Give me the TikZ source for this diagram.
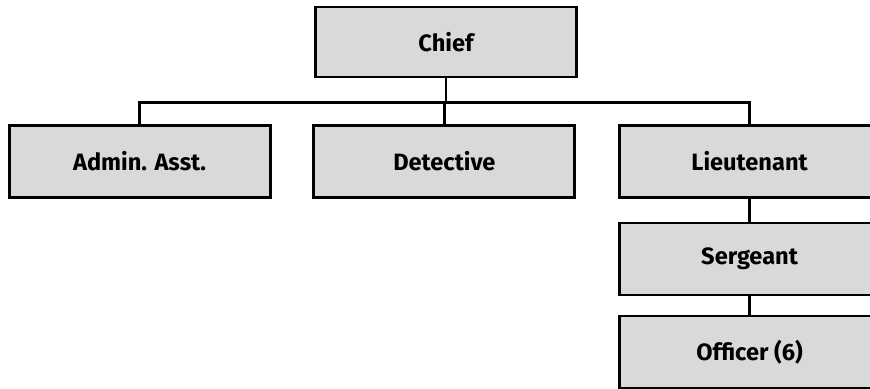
\documentclass[tikz,border=0pt]{standalone}
\usepackage{fontspec}
\setmainfont{Fira Sans}
\usepackage{tikz}

\begin{document}
\begin{tikzpicture}
		[scale=1,auto=center,
		every node/.style={draw=black,line width=2.1pt,fill=black!15,minimum width=6.525cm,minimum height=1.8cm,font=\fontsize{16.8}{20}\selectfont\bfseries},
		edge/.style={line width=1.6pt}]
		\clip (0,0) rectangle (21.75,-9.725);
		\node (chief) at (11.15,-1.05) [minimum height=1.75cm] {Chief};
		\node (admin) at (3.49,-4.04) {Admin. Asst.};
		\node (detective) at (11.11,-4.04) {Detective};
		\node (lieutenant) at (18.74,-4.04) {Lieutenant};
		\node (sergeant) at (18.74,-6.475) {Sergeant};
		\node (officer) at (18.74,-8.8) {Officer (6)};
		
		\foreach \to in {admin,detective,lieutenant}
		\draw[edge] (chief.south) -- ++(0,-0.6) -| (\to.north);
		\foreach \from/\to in {lieutenant/sergeant,sergeant/officer}
		\draw[edge] (\from) -- (\to);
		\end{tikzpicture}
\end{document}
